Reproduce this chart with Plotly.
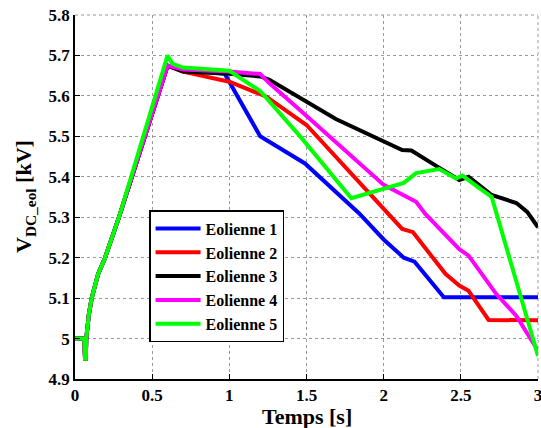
import plotly.graph_objects as go

# common start (ramp-up), shared by all series
t_ramp = [0.0, 0.06, 0.065, 0.07, 0.073, 0.09, 0.108, 0.15, 0.195, 0.285]
v_ramp = [5.0, 5.0, 4.95, 4.95, 5.0, 5.06, 5.10, 5.16, 5.20, 5.30]

names = ["Eolienne 1", "Eolienne 2", "Eolienne 3", "Eolienne 4", "Eolienne 5"]
colors = ["#0000FF", "#FF0000", "#000000", "#FF00FF", "#00FF00"]

t1 = [0.6, 0.7, 0.97, 1.2, 1.49, 1.84, 2.0, 2.13, 2.2, 2.39, 3.0]
v1 = [5.675, 5.665, 5.655, 5.50, 5.433, 5.31, 5.245, 5.20, 5.19, 5.102, 5.102]

t2 = [0.6, 0.7, 1.0, 1.24, 1.5, 2.03, 2.12, 2.19, 2.4, 2.49, 2.55, 2.68, 3.0]
v2 = [5.675, 5.66, 5.635, 5.598, 5.528, 5.31, 5.271, 5.263, 5.16, 5.131, 5.118, 5.046, 5.045]

t3 = [0.6, 0.7, 1.0, 1.2, 1.26, 1.69, 2.12, 2.18, 2.34, 2.49, 2.55, 2.70, 2.86, 2.93, 3.0]
v3 = [5.675, 5.66, 5.655, 5.648, 5.64, 5.543, 5.466, 5.465, 5.427, 5.392, 5.40, 5.355, 5.335, 5.313, 5.275]

t4 = [0.6, 0.7, 1.0, 1.2, 1.26, 1.47, 2.0, 2.14, 2.21, 2.27, 2.49, 2.55, 2.73, 2.86, 3.0]
v4 = [5.675, 5.665, 5.66, 5.654, 5.631, 5.561, 5.38, 5.351, 5.338, 5.308, 5.221, 5.205, 5.11, 5.056, 4.97]

t5 = [0.6, 0.63, 0.7, 1.0, 1.2, 1.47, 1.79, 2.13, 2.21, 2.36, 2.47, 2.51, 2.62, 2.70, 3.0]
v5 = [5.70, 5.68, 5.67, 5.662, 5.612, 5.495, 5.347, 5.385, 5.409, 5.419, 5.396, 5.403, 5.372, 5.35, 4.957]

x_ticks = [0, 0.5, 1, 1.5, 2, 2.5, 3]
x_tick_labels = ["0", "0.5", "1", "1.5", "2", "2.5", "3"]
y_ticks = [4.9, 5.0, 5.1, 5.2, 5.3, 5.4, 5.5, 5.6, 5.7, 5.8]
y_tick_labels = ["4.9", "5", "5.1", "5.2", "5.3", "5.4", "5.5", "5.6", "5.7", "5.8"]

x_title = "Temps [s]"
y_title = "V<sub>DC_eol</sub> [kV]"

series_t = [t1, t2, t3, t4, t5]
series_v = [v1, v2, v3, v4, v5]

FONT = "Liberation Serif, Times New Roman, serif"
GRID = "#9a9a9a"

fig = go.Figure()
for name, col, tt, vv in zip(names, colors, series_t, series_v):
    fig.add_trace(go.Scatter(
        x=t_ramp + tt, y=v_ramp + vv, mode="lines", name=name,
        line=dict(color=col, width=4), cliponaxis=False))

axis_common = dict(
    showgrid=True, gridcolor=GRID, griddash="dot", gridwidth=1,
    zeroline=False, ticks="inside", ticklen=5, tickcolor="black",
    showline=True, linecolor="black", linewidth=1.5, automargin=False,
    ticklabeloverflow="allow",
    tickfont=dict(family=FONT, size=17, color="black", weight="bold"),
)

fig.update_layout(
    width=541, height=428,
    margin=dict(l=75, r=3, t=15, b=49),
    plot_bgcolor="white", paper_bgcolor="white",
    showlegend=True,
    legend=dict(
        x=0.16, y=0.464, xanchor="left", yanchor="top",
        bgcolor="white", bordercolor="black", borderwidth=1.5,
        font=dict(family=FONT, size=16, color="black", weight="bold"),
        itemwidth=45, tracegroupgap=0,
    ),
    xaxis=dict(range=[0, 3], tickvals=x_ticks, ticktext=x_tick_labels, **axis_common),
    yaxis=dict(range=[4.9, 5.8], tickvals=y_ticks, ticktext=y_tick_labels, **axis_common),
    shapes=[
        dict(type="line", xref="paper", yref="paper", x0=0, x1=1, y0=1, y1=1,
             line=dict(color=GRID, width=1, dash="dot"), layer="below"),
        dict(type="line", xref="paper", yref="paper", x0=1, x1=1, y0=0, y1=1,
             line=dict(color=GRID, width=1, dash="dot"), layer="below"),
    ],
    annotations=[
        dict(text=x_title, xref="paper", yref="paper", x=0.5, y=0, yshift=-37,
             xanchor="center", yanchor="middle", showarrow=False,
             font=dict(family=FONT, size=22, color="black", weight="bold")),
        dict(text=y_title, xref="paper", yref="paper", x=0, y=0.5, xshift=-50,
             xanchor="center", yanchor="middle", textangle=-90, showarrow=False,
             font=dict(family=FONT, size=22, color="black", weight="bold")),
    ],
)

# remove the browser's default 8px page margin so the figure fills the window
fig.write_html("out.html",
               config={"displayModeBar": False},
               post_script="document.body.style.margin='0';document.body.style.overflow='hidden';")
